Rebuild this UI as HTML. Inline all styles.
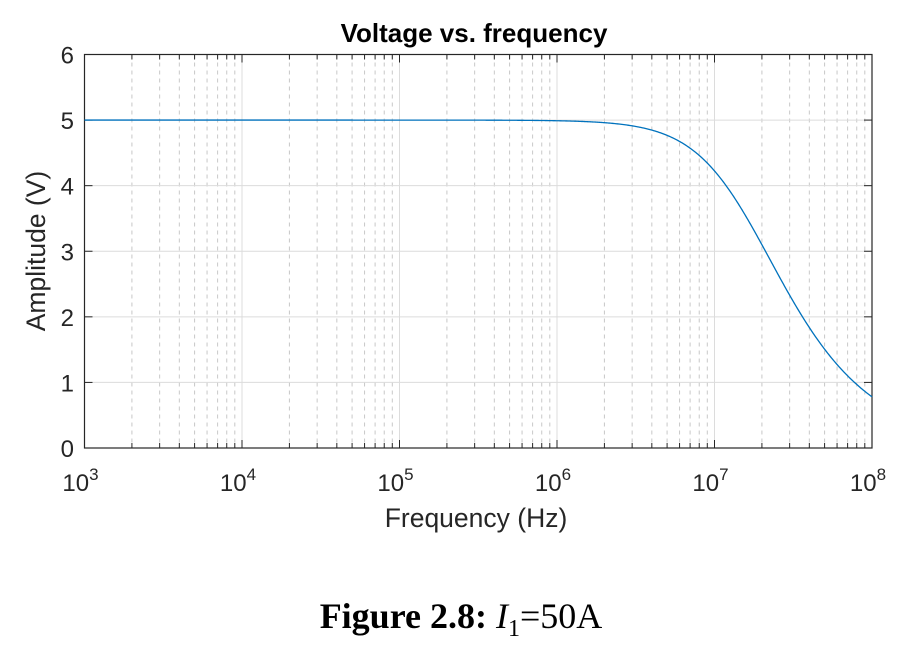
<!DOCTYPE html>
<html><head><meta charset="utf-8"><style>
body{margin:0;background:#fff;width:904px;height:646px;overflow:hidden}
svg text{font-family:"Liberation Sans",sans-serif;fill:#262626}
</style></head><body>
<svg id="s" width="904" height="646" xmlns="http://www.w3.org/2000/svg">
<g id="grid"></g>
<rect x="84.5" y="54.5" width="787.5" height="393.5" fill="none" stroke="#262626" stroke-width="1.2"/>
<g id="ticks"></g>
<path id="curve" fill="none" stroke="#0072bd" stroke-width="1.3"/>
<text x="474" y="42" font-size="26" font-weight="bold" text-anchor="middle" style="fill:#000">Voltage vs. frequency</text>
<text x="476" y="527" font-size="26.5" text-anchor="middle">Frequency (Hz)</text>
<text transform="translate(45,251) rotate(-90)" font-size="26.5" text-anchor="middle">Amplitude (V)</text>
<g id="lbl"></g>
<text x="461" y="628" font-size="36" text-anchor="middle" style="font-family:'Liberation Serif',serif;fill:#000"><tspan font-weight="bold">Figure 2.8:</tspan> <tspan font-style="italic">I</tspan><tspan font-size="24" dy="8">1</tspan><tspan dy="-8">=50A</tspan></text>
</svg>
<script>
var L=84.5,R=872,T=54.5,B=448,dec=(R-L)/5,uy=(B-T)/6;
var ns="http://www.w3.org/2000/svg";
function el(p,t,a,txt){var e=document.createElementNS(ns,t);for(var k in a)e.setAttribute(k,a[k]);if(txt!=null)e.textContent=txt;document.getElementById(p).appendChild(e);return e;}
function X(f){return L+(Math.log10(f)-3)*dec;}
for(var d=3;d<8;d++)for(var m=1;m<10;m++){var x=X(m*Math.pow(10,d));
 if(m==1){if(d>3)el("grid","line",{x1:x,x2:x,y1:T,y2:B,stroke:"#dcdcdc","stroke-width":1});}
 else el("grid","line",{x1:x,x2:x,y1:T,y2:B,stroke:"#c8c8c8","stroke-width":1,"stroke-dasharray":"4,4"});
 var tl=m==1?8:5;
 if(!(m==1&&d==3)){el("ticks","line",{x1:x,x2:x,y1:B,y2:B-tl,stroke:"#262626"});el("ticks","line",{x1:x,x2:x,y1:T,y2:T+tl,stroke:"#262626"});}
}
for(var v=1;v<6;v++){var y=B-v*uy;el("grid","line",{x1:L,x2:R,y1:y,y2:y,stroke:"#dcdcdc","stroke-width":1});
 el("ticks","line",{x1:L,x2:L+8,y1:y,y2:y,stroke:"#262626"});el("ticks","line",{x1:R,x2:R-8,y1:y,y2:y,stroke:"#262626"});}
for(var v=0;v<=6;v++)el("lbl","text",{x:74,y:B-v*uy+9,"font-size":24,"text-anchor":"end"},v);
for(var d=3;d<=8;d++){var x=L+(d-3)*dec;var t=el("lbl","text",{x:x-4,y:491,"font-size":24,"text-anchor":"middle"},"10");
 var s=document.createElementNS(ns,"tspan");s.setAttribute("font-size","17");s.setAttribute("dy","-11");s.textContent=d;t.appendChild(s);}
var p="",fc=1.58e7;
for(var i=0;i<=800;i++){var lf=3+5*i/800,f=Math.pow(10,lf),a=5/Math.sqrt(1+(f/fc)*(f/fc));
 p+=(i?"L":"M")+(L+(lf-3)*dec).toFixed(2)+","+(B-a*uy).toFixed(2);}
document.getElementById("curve").setAttribute("d",p);
</script>
</body></html>
